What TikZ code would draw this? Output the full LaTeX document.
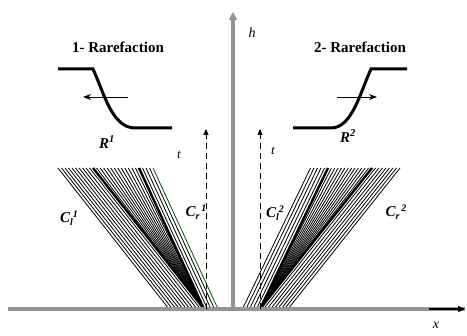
\documentclass[tikz,border=0pt]{standalone}
\usepackage{fontspec}
\setmainfont{Liberation Serif}
\usetikzlibrary{arrows.meta}
\newcommand{\supsub}[2]{\raisebox{-3pt}{\fontsize{10}{10}\selectfont#2}\raisebox{5pt}{\fontsize{10}{10}\selectfont#1}}
\begin{document}
\begin{tikzpicture}[x=1pt,y=1pt,font=\fontsize{15}{18}\selectfont,
    ax/.style={black!42,line width=4pt},
    ray/.style={line width=.8pt},
    edge/.style={line width=2.4pt},
    prof/.style={line width=3pt},
    lab/.style={font=\fontsize{15}{18}\selectfont\bfseries\itshape},
    var/.style={font=\fontsize{14}{16}\selectfont\itshape}]
  \useasboundingbox (0,0) rectangle (467,336);
  \coordinate (o1) at (204,27); \coordinate (o2) at (260,27);
  % fan 1
  \foreach \k in {1,...,10} \draw[ray] (93-3.5*\k,168) -- ++(111,-141);
  \foreach \k in {1,2,3} \draw[ray] (139+3.5*\k,168) -- ++(65,-141);
  \draw[ray,green!35!black] (153,168) -- ++(65,-141);
  \foreach \i in {1,...,12} \draw[ray] (o1) -- (93+46*\i/13,168);
  \draw[edge] (o1) -- (93,168) (o1) -- (139,168);
  % fan 2
  \foreach \k in {1,...,5} \draw[ray] (328-3.5*\k,168) -- ++(-68,-141);
  \foreach \k in {1,...,8} \draw[ray] (372+3.5*\k,168) -- ++(-112,-141);
  \foreach \i in {1,...,12} \draw[ray] (o2) -- (328+44*\i/13,168);
  \draw[edge] (o2) -- (328,168) (o2) -- (372,168);
  % axes
  \coordinate (xa) at (8,27); \coordinate (xb) at (465,27);
  \coordinate (ha) at (233,27); \coordinate (hb) at (233,324);
  \draw[ax] (xa) -- (xb);
  \draw[ax,-{Triangle[width=8pt,length=8pt]}] (ha) -- (hb);
  \draw[line width=1.3pt,-{Triangle[width=6pt,length=7pt]}] (429,27) -- (xb);
  \node[var] (h) at (252,303) {h};
  \node[var] (x) at (436,11) {x};
  % time axes
  \coordinate (t1) at (206,207); \coordinate (t2) at (260,207);
  \draw[line width=.9pt,dash pattern=on 6pt off 4pt,-{Triangle[width=5pt,length=6pt]}]
    (o1-|t1) -- (t1);
  \draw[line width=.9pt,dash pattern=on 6pt off 4pt,-{Triangle[width=5pt,length=6pt]}]
    (o2) -- (t2);
  \node[var,font=\fontsize{13}{15}\selectfont\itshape] (tl) at (179,181) {t};
  \node[var,font=\fontsize{13}{15}\selectfont\itshape] (tr) at (273,185) {t};
  % profiles
  \node[font=\fontsize{15}{18}\selectfont\bfseries] (r1) at (118,289) {1- Rarefaction};
  \node[font=\fontsize{15}{18}\selectfont\bfseries] (r2) at (360,289) {2- Rarefaction};
  \draw[prof] (58,267) -- (93,267) .. controls (104,243) and (112,208) .. (135,208) -- (172,208);
  \draw[prof] (293,208) -- (331,208) .. controls (352,208) and (360,243) .. (371,267) -- (407,267);
  \coordinate (a1) at (128,239); \coordinate (b1) at (83,239);
  \coordinate (a2) at (337,239); \coordinate (b2) at (377,239);
  \draw[line width=.9pt,-{Stealth[length=8pt,width=6pt]}] (a1) -- (b1);
  \draw[line width=.9pt,-{Stealth[length=8pt,width=6pt]}] (a2) -- (b2);
  \node[lab] (R1) at (107,194) {R\textsuperscript{1}};
  \node[lab] (R2) at (348,200) {R\textsuperscript{2}};
  % labels
  \node[lab] (cl1) at (69,118) {C\supsub{1}{l}};
  \node[lab] (cr1) at (196,124) {C\supsub{\,1}{r}};
  \node[lab] (cl2) at (275,123) {C\supsub{2}{l}};
  \node[lab] (cr2) at (396,124) {C\supsub{\,2}{r}};
\end{tikzpicture}
\end{document}
